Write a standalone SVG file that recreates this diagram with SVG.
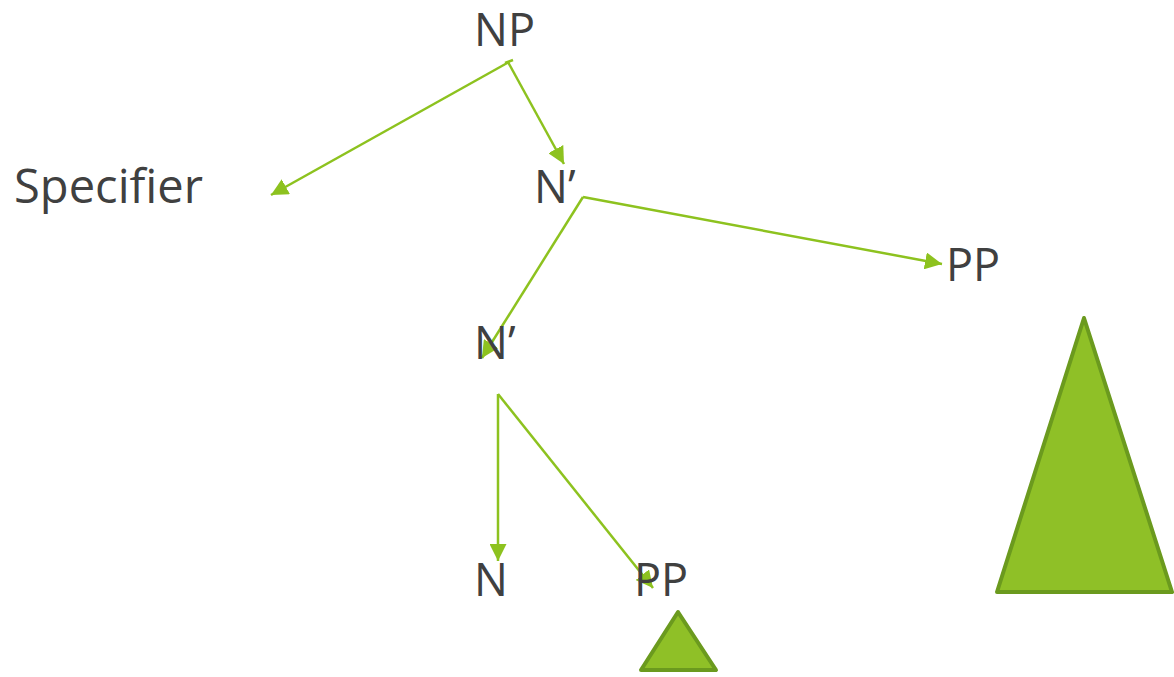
<svg xmlns="http://www.w3.org/2000/svg" width="1174" height="677" viewBox="0 0 1174 677">
<style>
.lbl{font-family:"Open Sans","Noto Sans","DejaVu Sans",sans-serif;font-size:45px;fill:#404040}
.edge{stroke:#8dc21f;stroke-width:2.5;fill:none}
.tri{fill:#8fc027;stroke:#6b9a1e;stroke-width:4;stroke-linejoin:round}
</style>
<defs>
<marker id="arr" viewBox="0 0 10 10" refX="10" refY="5" markerWidth="17" markerHeight="17" markerUnits="userSpaceOnUse" orient="auto">
<path d="M0,0 L10,5 L0,10 z" fill="#8dc21f"/>
</marker>
</defs>
<rect width="1174" height="677" fill="#ffffff"/>
<g id="connectors">
<path class="edge" d="M505,63 L513,60"/>
<line class="edge" x1="509" y1="62" x2="271" y2="195" marker-end="url(#arr)"/>
<line class="edge" x1="508" y1="62" x2="564" y2="164" marker-end="url(#arr)"/>
<line class="edge" x1="583" y1="197" x2="942" y2="264" marker-end="url(#arr)"/>
<line class="edge" x1="583" y1="197" x2="482" y2="358" marker-end="url(#arr)"/>
<line class="edge" x1="498" y1="394" x2="498" y2="561" marker-end="url(#arr)"/>
<line class="edge" x1="498" y1="394" x2="653" y2="588" marker-end="url(#arr)"/>
</g>
<g id="node-np"><text class="lbl" x="474" y="46">NP</text></g>
<g id="node-specifier"><text class="lbl" x="14" y="203" style="font-size:47px" textLength="189" lengthAdjust="spacingAndGlyphs">Specifier</text></g>
<g id="node-nbar1"><text class="lbl" x="534" y="203">N’</text></g>
<g id="node-pp1"><text class="lbl" x="946" y="281">PP</text></g>
<g id="node-nbar2"><text class="lbl" x="474" y="359">N’</text></g>
<g id="node-n"><text class="lbl" x="474" y="596">N</text></g>
<g id="node-pp2"><text class="lbl" x="634" y="596">PP</text></g>
<g id="tri-big"><polygon class="tri" points="1084,318 1172,592 997,592"/></g>
<g id="tri-small"><polygon class="tri" points="678,612 716,670 641,670"/></g>
</svg>
